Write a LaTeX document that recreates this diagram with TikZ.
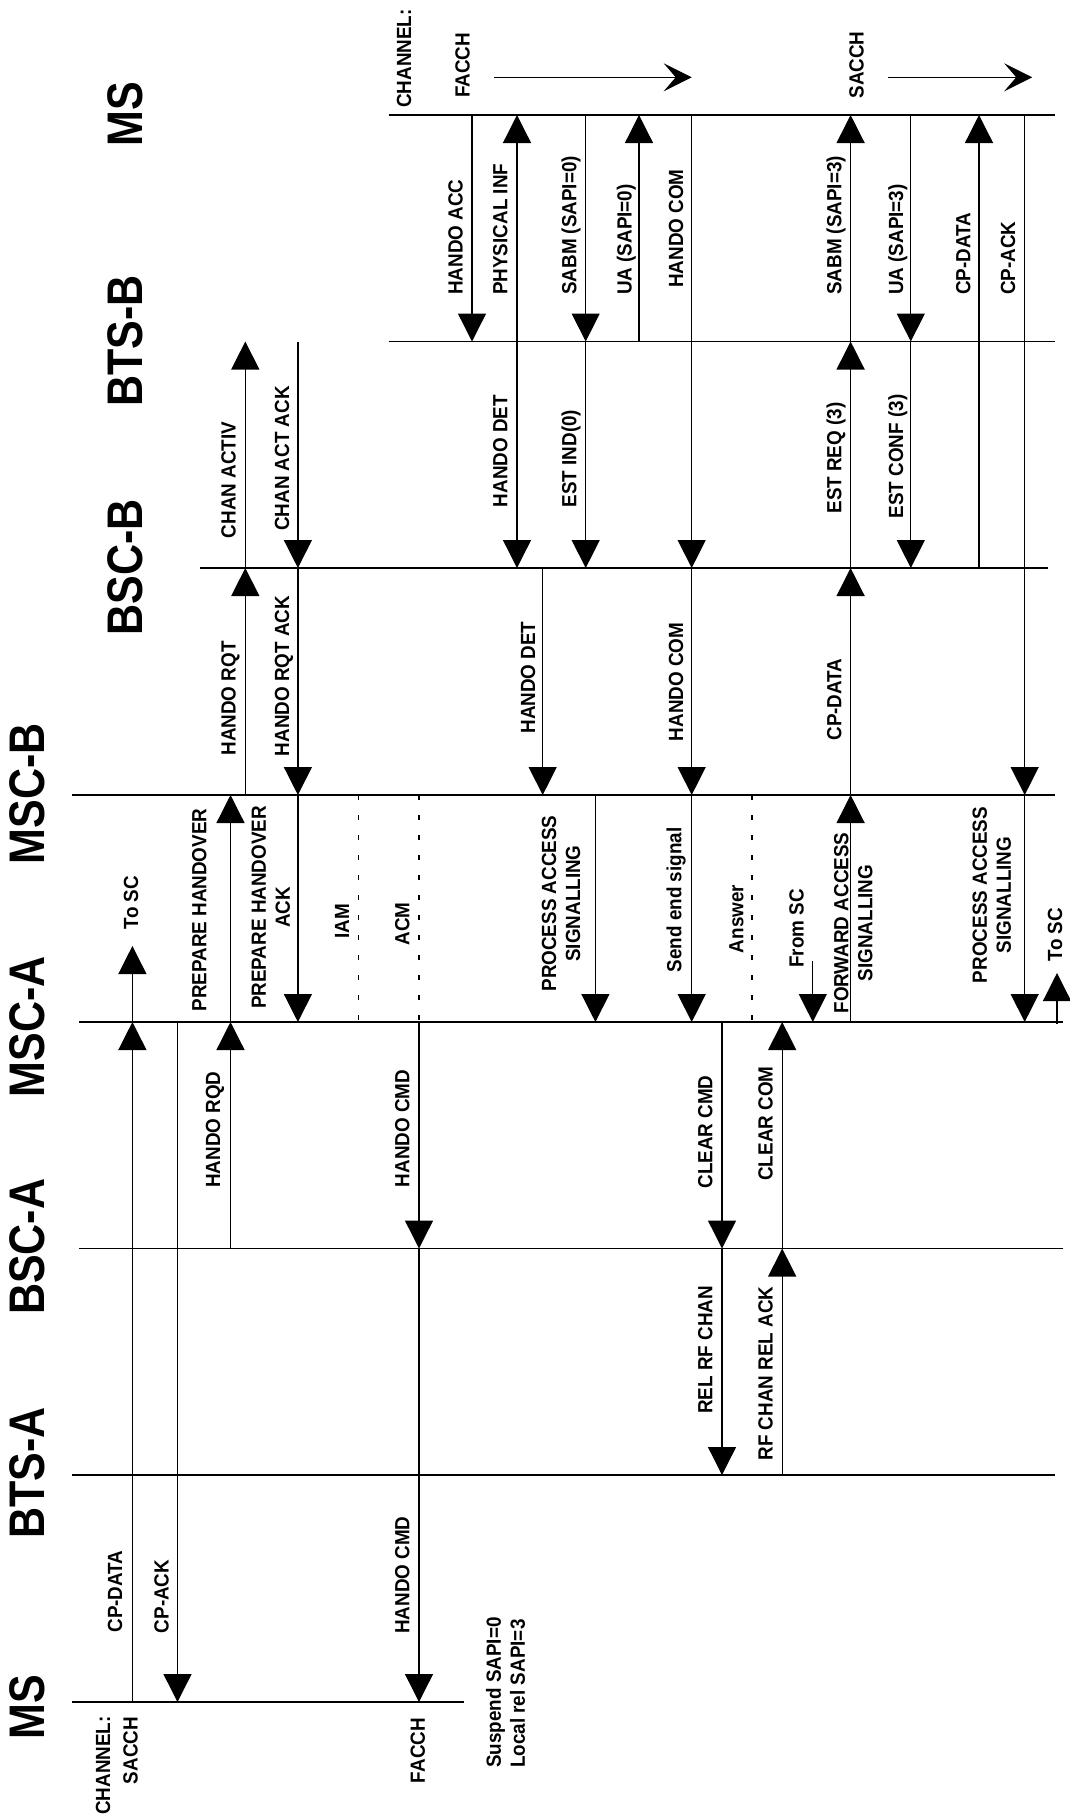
\documentclass[tikz,border=0pt]{standalone}
\usepackage{fontspec}
\usetikzlibrary{arrows.meta}
\newfontfamily\lblfam[FakeStretch=0.92]{Liberation Sans}
\newfontfamily\bigfam[FakeStretch=0.86]{Liberation Sans}
\newcommand\lblf{\lblfam\bfseries\fontsize{20.5pt}{24pt}\selectfont}
\newcommand\bigf{\bigfam\bfseries\fontsize{50pt}{60pt}\selectfont}
\def\ya{115}\def\yb{341.5}\def\yc{568}\def\yd{795}
\def\ye{1022}\def\yf{1248.5}\def\yg{1475}\def\yh{1702}
\begin{document}
\begin{tikzpicture}[x=1pt,y=-1pt,
  life/.style={line width=1.3pt},
  msg/.style={line width=1.3pt,-{Triangle[length=28pt,width=28pt]}},
  plain/.style={line width=1.3pt},
  dsh/.style={line width=1.2pt,dash pattern=on 5pt off 15pt},
  chan/.style={line width=1.3pt,-{Stealth[length=28pt,width=28pt,inset=12pt]}},
  lbl/.style={rotate=90,anchor=base,inner sep=0pt,font=\lblf},
  lbls/.style={rotate=90,anchor=base west,inner sep=0pt,font=\lblf},
  lbl2/.style={rotate=90,anchor=center,inner sep=0pt,font=\lblf,align=center},
  big/.style={rotate=90,anchor=base,inner sep=0pt,font=\bigf}]
\useasboundingbox (0,0) rectangle (1069,1816);
% entity lines
\coordinate (msT1) at (388.7,\ya);  \coordinate (msT2) at (1054.6,\ya);
\coordinate (btsB1) at (388.7,\yb); \coordinate (btsB2) at (1054.6,\yb);
\coordinate (bscB1) at (200.2,\yc); \coordinate (bscB2) at (1047.7,\yc);
\coordinate (mscB1) at (71.6,\yd);  \coordinate (mscB2) at (1054.6,\yd);
\coordinate (mscA1) at (79.1,\ye);  \coordinate (mscA2) at (1063,\ye);
\coordinate (bscA1) at (79.1,\yf);  \coordinate (bscA2) at (1063,\yf);
\coordinate (btsA1) at (71.6,\yg);  \coordinate (btsA2) at (1054.6,\yg);
\coordinate (msB1) at (71.6,\yh);   \coordinate (msB2) at (464.4,\yh);
\foreach \a in {msT,btsB,bscB,mscB,mscA,bscA,btsA,msB} \draw[life] (\a1) -- (\a2);
% entity names
\node[big] (nMSt) at (142.8,114) {MS};
\node[big] (nBTSB) at (142.8,341) {BTS-B};
\node[big] (nBSCB) at (142.8,567.5) {BSC-B};
\node[big] (nMSCB) at (44.7,794) {MSC-B};
\node[big] (nMSCA) at (44.7,1027) {MSC-A};
\node[big] (nBSCA) at (44.7,1246.7) {BSC-A};
\node[big] (nBTSA) at (44.7,1473) {BTS-A};
\node[big] (nMSb) at (44.7,1707) {MS};
% channel notes
\node[lbl] (chT) at (411,58.5) {CHANNEL:};
\node[lbl] (faT) at (469.6,65.5) {FACCH};
\node[lbl] (saT) at (863.7,65) {SACCH};
\coordinate (fa1) at (494.3,77.3); \coordinate (fa2) at (691.7,77.3);
\coordinate (sa1) at (887.8,77.3); \coordinate (sa2) at (1032.2,77.3);
\draw[chan] (fa1) -- (fa2);
\draw[chan] (sa1) -- (sa2);
\node[lbl] (chB) at (110,1765.5) {CHANNEL:};
\node[lbl] (saB) at (137.6,1750.5) {SACCH};
\node[lbl] (faB) at (424.8,1750.5) {FACCH};
\node[rotate=90,anchor=west,inner sep=0pt,font=\lblf,align=left] (susp) at (505.6,1768) {Suspend SAPI=0\\Local rel SAPI=3};
% ---- messages, right part
\draw[msg] (472,\ya) -- (472,\yb);
\node[lbls] (m1) at (462.7,295) {HANDO ACC};
\draw[msg] (517,\yb) -- (517,\ya);
\node[lbls] (m2) at (507.4,295) {PHYSICAL INF};
\draw[msg] (517,\yb) -- (517,\yc);
\node[lbl] (m3) at (507.4,451) {HANDO DET};
\draw[msg] (585.7,\ya) -- (585.7,\yb);
\node[lbls] (m4) at (576.4,295) {SABM (SAPI=0)};
\draw[msg] (585.7,\yb) -- (585.7,\yc);
\node[lbl] (m5) at (576.4,458.5) {EST IND(0)};
\draw[msg] (639,\yb) -- (639,\ya);
\node[lbls] (m6) at (631.5,295) {UA (SAPI=0)};
\draw[msg] (691.7,\ya) -- (691.7,\yc);
\node[lbls] (m7) at (683,288) {HANDO COM};
\draw[msg] (691.7,\yc) -- (691.7,\yd);
\node[lbl] (m8) at (683,682) {HANDO COM};
\draw[msg] (691.7,\yd) -- (691.7,\ye);
\node[lbl] (m9) at (681.4,900) {Send end signal};
\draw[msg] (850.6,\yb) -- (850.6,\ya);
\node[lbls] (m10) at (841.3,295) {SABM (SAPI=3)};
\draw[msg] (850.6,\yc) -- (850.6,\yb);
\node[lbl] (m11) at (841.3,458) {EST REQ (3)};
\draw[msg] (850.6,\yd) -- (850.6,\yc);
\node[lbl] (m12) at (841.3,699.5) {CP-DATA};
\draw[msg] (850.6,\ye) -- (850.6,\yd);
\node[lbl2] (m13) at (853.4,923) {FORWARD ACCESS\\SIGNALLING};
\draw[msg] (910.8,\ya) -- (910.8,\yb);
\node[lbls] (m14) at (903.2,295) {UA (SAPI=3)};
\draw[msg] (910.8,\yb) -- (910.8,\yc);
\node[lbl] (m15) at (903,456.5) {EST CONF (3)};
\draw[msg] (979,\yc) -- (979,\ya);
\node[lbls] (m16) at (970.3,295) {CP-DATA};
\draw[msg] (1024.7,\ya) -- (1024.7,\yd);
\node[lbls] (m17) at (1015,295) {CP-ACK};
\draw[msg] (1024.7,\yd) -- (1024.7,\ye);
\node[lbl2] (m18) at (991.7,895) {PROCESS ACCESS\\SIGNALLING};
\draw[msg] (1057,1024) -- (1057,973);
\node[lbl] (m19) at (1062,934.5) {To SC};
\draw[msg] (542.7,\yc) -- (542.7,\yd);
\node[lbl] (m20) at (535,677.5) {HANDO DET};
\draw[msg] (595.4,\yd) -- (595.4,\ye);
\node[lbl2] (m21) at (561,903.5) {PROCESS ACCESS\\SIGNALLING};
\draw[dsh] (751.9,\yd) -- (751.9,\ye);
\node[lbl] (m22) at (743.3,919) {Answer};
\draw[msg] (812.8,961) -- (812.8,\ye);
\node[lbl] (m23) at (803.5,928.5) {From SC};
\draw[msg] (722,\ye) -- (722,\yf);
\node[lbl] (m24) at (712.3,1132) {CLEAR CMD};
\draw[msg] (722,\yf) -- (722,\yg);
\node[lbl] (m25) at (712.3,1350) {REL RF CHAN};
\draw[msg] (782.2,\yf) -- (782.2,\ye);
\node[lbl] (m26) at (772.5,1123.5) {CLEAR COM};
\draw[msg] (782.2,\yg) -- (782.2,\yf);
\node[lbl] (m27) at (772.5,1373.5) {RF CHAN REL ACK};
% ---- messages, left part
\draw[msg] (245.3,\yc) -- (245.3,\yb);
\node[lbl] (m28) at (235.6,480) {CHAN ACTIV};
\draw[msg] (245.3,\yd) -- (245.3,\yc);
\node[lbl] (m29) at (235.6,698.5) {HANDO RQT};
\draw[msg] (297.9,\yb) -- (297.9,\yc);
\node[lbl] (m30) at (289,458.5) {CHAN ACT ACK};
\draw[msg] (297.9,\yc) -- (297.9,\yd);
\node[lbl] (m31) at (289,676) {HANDO RQT ACK};
\draw[msg] (297.9,\yd) -- (297.9,\ye);
\node[lbl2] (m32) at (270.8,907.5) {PREPARE HANDOVER\\ACK};
\draw[msg] (230.5,\ye) -- (230.5,\yd);
\node[lbl] (m33) at (206.4,910) {PREPARE HANDOVER};
\draw[msg] (230.5,\yf) -- (230.5,\ye);
\node[lbl] (m34) at (220.2,1129.5) {HANDO RQD};
\draw[dsh] (358.8,\yd) -- (358.8,\ye);
\node[lbl] (m35) at (349,921.5) {IAM};
\draw[dsh] (419,\yd) -- (419,\ye);
\node[lbl] (m36) at (409.4,924) {ACM};
\draw[msg] (419,\ye) -- (419,\yf);
\node[lbl] (m37) at (409.4,1128.5) {HANDO CMD};
\draw[msg] (419,\yf) -- (419,\yh);
\node[lbl] (m38) at (409.4,1575) {HANDO CMD};
\draw[msg] (132.4,\yh) -- (132.4,\ye);
\node[lbl] (m39) at (122,1591.5) {CP-DATA};
\draw[msg] (132.4,\ye) -- (132.4,946);
\node[lbl] (m40) at (138,902.5) {To SC};
\draw[msg] (177.5,\ye) -- (177.5,\yh);
\node[lbl] (m41) at (168.6,1596.5) {CP-ACK};
\end{tikzpicture}
\end{document}
